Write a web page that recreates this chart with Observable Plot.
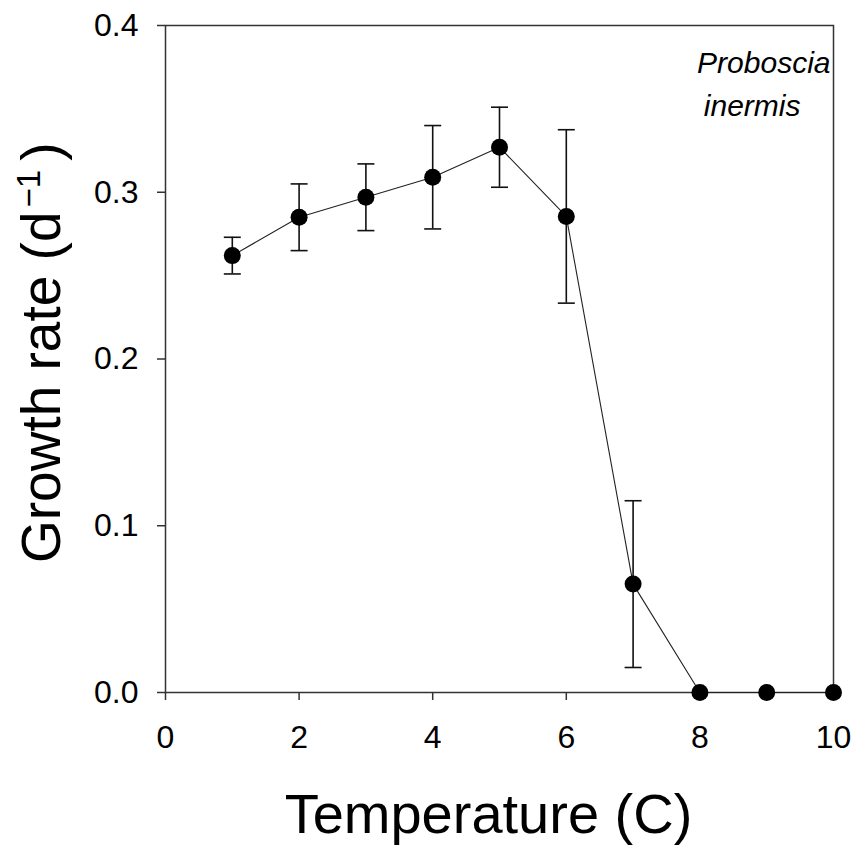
<!DOCTYPE html>
<html>
<head>
<meta charset="utf-8">
<script src="https://cdn.jsdelivr.net/npm/d3@7"></script>
<script src="https://cdn.jsdelivr.net/npm/@observablehq/plot@0.6"></script>
<style>
  html, body { margin: 0; padding: 0; background: #fff; }
  #chart svg { display: block; }
</style>
</head>
<body>
<div id="chart"></div>
<script>
// Data
const temps   = [1, 2, 3, 4, 5, 6, 7, 8, 9, 10];
const growth  = [0.262, 0.285, 0.297, 0.309, 0.327, 0.2855, 0.065, 0, 0, 0];
const stderr  = [0.011, 0.020, 0.020, 0.031, 0.024, 0.052, 0.050, 0, 0, 0];
const xTicks  = [0, 2, 4, 6, 8, 10];
const yTicks  = [0, 0.1, 0.2, 0.3, 0.4];
const speciesLines = ["Proboscia", "inermis"];
const xLabel = "Temperature (C)";
const yLabelMain = "Growth rate (d";
const yLabelSup = "\u22121";
const yLabelEnd = ")";

const data = temps.map((t, i) => ({t, g: growth[i], se: stderr[i]}));
const errData = data.filter(d => d.se > 0);

// horizontal cap symbol for error bars
const capSymbol = {
  draw(ctx, size) {
    const w = Math.sqrt(size / Math.PI);
    ctx.moveTo(-w, 0);
    ctx.lineTo(w, 0);
  }
};

const font = "'Liberation Sans', Arial, Helvetica, sans-serif";

const chart = Plot.plot({
  width: 855,
  height: 847,
  marginLeft: 165,
  marginRight: 22,
  marginTop: 25,
  marginBottom: 155,
  style: {fontFamily: font, background: "#fff", color: "#000"},
  x: {domain: [0, 10]},
  y: {domain: [0, 0.4]},
  marks: [
    Plot.frame({stroke: "#333", strokeWidth: 1.5}),
    Plot.axisY(yTicks, {tickSize: 8, tickPadding: 19, tickFormat: d3.format(".1f"), fontSize: 32, label: null, stroke: "#333", strokeWidth: 1.5}),
    Plot.axisX(xTicks, {tickSize: 8, tickPadding: 25, fontSize: 32, label: null, stroke: "#333", strokeWidth: 1.5}),
    Plot.line(data, {x: "t", y: "g", stroke: "#222", strokeWidth: 1.1}),
    Plot.ruleX(errData, {x: "t", y1: d => d.g - d.se, y2: d => d.g + d.se, stroke: "#111", strokeWidth: 1.6}),
    Plot.dot(errData, {x: "t", y: d => d.g + d.se, symbol: capSymbol, r: 8.5, stroke: "#111", strokeWidth: 1.6, fill: "none"}),
    Plot.dot(errData, {x: "t", y: d => d.g - d.se, symbol: capSymbol, r: 8.5, stroke: "#111", strokeWidth: 1.6, fill: "none"}),
    Plot.dot(data, {x: "t", y: "g", r: 8.5, fill: "#000", stroke: "none"}),
    Plot.text([speciesLines[0]], {frameAnchor: "top-right", dx: -3, dy: 38, lineAnchor: "middle", fontStyle: "italic", fontSize: 30, fill: "#000"}),
    Plot.text([speciesLines[1]], {frameAnchor: "top-right", dx: -33, dy: 81, lineAnchor: "middle", fontStyle: "italic", fontSize: 30, fill: "#000"}),
    Plot.text([xLabel], {frameAnchor: "bottom", dy: 140, lineAnchor: "bottom", fontSize: 56, fill: "#000", dx: -11})
  ]
});

// y-axis title with superscript
const svg = d3.select(chart);
const yl = svg.append("text")
  .attr("transform", "translate(60,563) rotate(-90)")
  .attr("text-anchor", "start")
  .attr("font-family", font)
  .attr("font-size", 55)
  .attr("fill", "#000");
yl.append("tspan").text(yLabelMain);
yl.append("tspan").attr("font-size", 33).attr("dy", -20).attr("dx", 4).text(yLabelSup);
yl.append("tspan").attr("dy", 20).attr("dx", 9).text(yLabelEnd);

document.getElementById("chart").appendChild(chart);
</script>
</body>
</html>
